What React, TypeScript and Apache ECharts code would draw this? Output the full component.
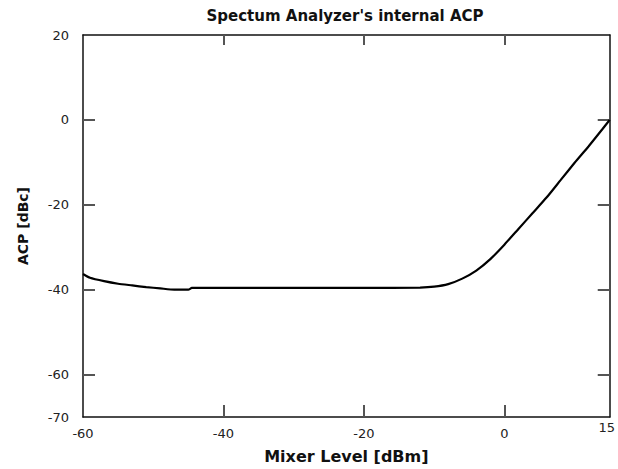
import React, { useEffect, useRef } from "react";
import * as echarts from "echarts";

const mixerLevel = [-60, -59, -57, -55, -53, -51, -49, -47, -45, -44.5, -40, -30, -20, -12, -10, -8, -6, -4, -2, 0, 2, 4, 6, 8, 10, 12, 14, 15];
const acp = [-36.3, -37.2, -38.0, -38.6, -39.0, -39.4, -39.7, -40.0, -40.0, -39.6, -39.6, -39.6, -39.6, -39.5, -39.3, -38.7, -37.4, -35.5, -32.8, -29.4, -25.7, -22.0, -18.3, -14.2, -10.1, -6.2, -2.1, 0];

const xLabelValues = [-60, -40, -20, 0, 15];
const xTickValues = [-40, -20, 0];
const yLabelValues = [-70, -60, -40, -20, 0, 20];
const yTickValues = [-60, -40, -20, 0];

const titleText = "Spectum Analyzer's internal ACP";
const xName = "Mixer Level [dBm]";
const yName = "ACP [dBc]";

export default function App() {
  const ref = useRef<HTMLDivElement>(null);
  useEffect(() => {
    if (!ref.current) return;
    const chart = echarts.init(ref.current, undefined, { renderer: "svg" });
    const axisLine = { show: true, onZero: false, lineStyle: { color: "#111", width: 1.5 } };
    const tickStyle = { color: "#555", width: 2 };
    const labelFont = { fontFamily: "DejaVu Sans", fontSize: 13, color: "#222" };
    chart.setOption({
      animation: false,
      backgroundColor: "#fff",
      title: {
        text: titleText,
        left: 340,
        textAlign: "center",
        top: 3,
        textStyle: { fontFamily: "DejaVu Sans", fontWeight: "bold", fontSize: 15, color: "#111" },
      },
      grid: { left: 83, right: 5, top: 35, bottom: 51 },
      xAxis: [
        {
          type: "value",
          min: -60,
          max: 15,
          interval: 20,
          position: "bottom",
          name: xName,
          nameLocation: "middle",
          nameGap: 31,
          nameTextStyle: { fontFamily: "DejaVu Sans", fontWeight: "bold", fontSize: 16, color: "#111" },
          axisLine,
          axisTick: { show: true, inside: true, length: 12, customValues: xTickValues, lineStyle: tickStyle },
          axisLabel: {
            ...labelFont,
            margin: 16,
            verticalAlign: "middle",
            customValues: xLabelValues,
            formatter: (v: number) => (v === 15 ? "{m|15}" : String(v)),
            rich: { m: { ...labelFont, padding: [0, 6, 12, 0] } },
          },
          splitLine: { show: false },
        },
        {
          type: "value",
          min: -60,
          max: 15,
          interval: 20,
          position: "top",
          axisLine,
          axisTick: { show: true, inside: true, length: 10, customValues: xTickValues, lineStyle: tickStyle },
          axisLabel: { show: false },
          splitLine: { show: false },
        },
      ],
      yAxis: [
        {
          type: "value",
          min: -70,
          max: 20,
          interval: 10,
          position: "left",
          name: yName,
          nameLocation: "middle",
          nameGap: 53,
          nameTextStyle: { fontFamily: "DejaVu Sans", fontWeight: "bold", fontSize: 14, color: "#111" },
          axisLine,
          axisTick: { show: true, inside: true, length: 12, customValues: yTickValues, lineStyle: tickStyle },
          axisLabel: { ...labelFont, margin: 14, customValues: yLabelValues },
          splitLine: { show: false },
        },
        {
          type: "value",
          min: -70,
          max: 20,
          interval: 10,
          position: "right",
          axisLine,
          axisTick: { show: true, inside: true, length: 12, customValues: yTickValues, lineStyle: tickStyle },
          axisLabel: { show: false },
          splitLine: { show: false },
        },
      ],
      series: [
        {
          type: "line",
          xAxisIndex: 0,
          yAxisIndex: 0,
          data: mixerLevel.map((x, i) => [x, acp[i]]),
          showSymbol: false,
          smooth: 0.2,
          lineStyle: { color: "#000", width: 2.2 },
        },
      ],
    });
    return () => chart.dispose();
  }, []);
  return (
    <div
      ref={ref}
      style={{ position: "fixed", left: 0, top: 0, width: 618, height: 469, background: "#fff" }}
    />
  );
}
